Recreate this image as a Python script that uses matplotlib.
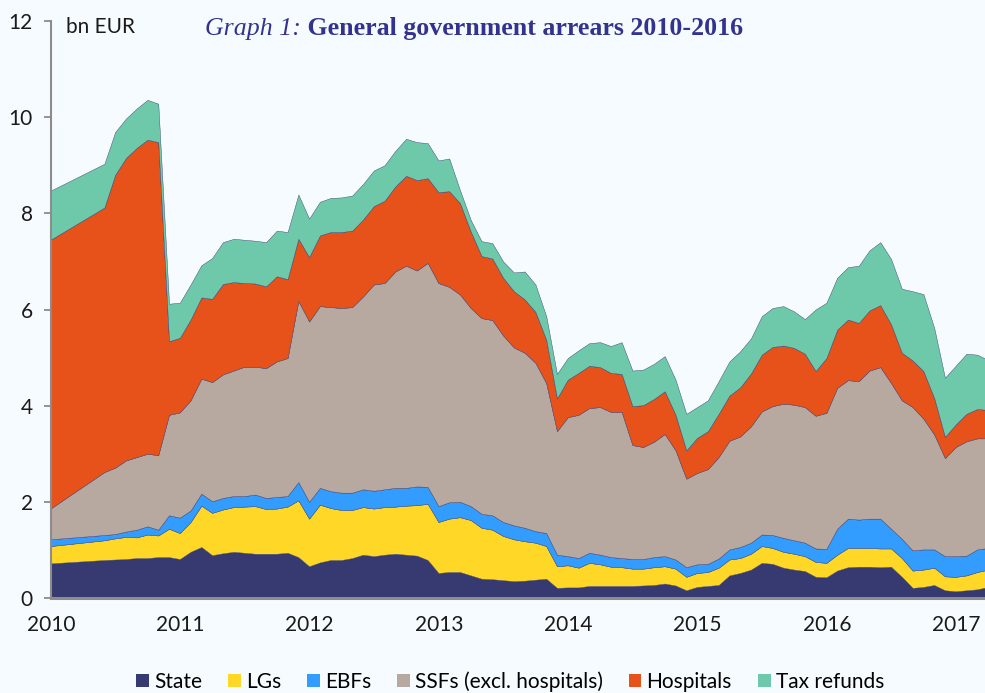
import matplotlib
matplotlib.use('Agg')
import matplotlib.pyplot as plt
import pandas as pd
from matplotlib.patches import Patch

# ---------------- data (bn EUR, monthly) ----------------
months = ['2010-01'] + [str(p) for p in pd.period_range('2010-06', '2017-04', freq='M')]

state = [0.71,
         0.78, 0.79, 0.80, 0.82, 0.82, 0.84, 0.84,
         0.80, 0.95, 1.05, 0.88, 0.92, 0.95, 0.93, 0.91, 0.91, 0.91, 0.93, 0.84,
         0.65, 0.73, 0.78, 0.78, 0.82, 0.89, 0.86, 0.89, 0.91, 0.89, 0.87, 0.78,
         0.51, 0.53, 0.53, 0.46, 0.39, 0.38, 0.36, 0.34, 0.35, 0.37, 0.39, 0.20,
         0.21, 0.21, 0.24, 0.24, 0.24, 0.24, 0.24, 0.25, 0.26, 0.29, 0.25, 0.15,
         0.22, 0.24, 0.26, 0.46, 0.51, 0.58, 0.72, 0.70, 0.62, 0.58, 0.55, 0.43,
         0.42, 0.56, 0.63, 0.64, 0.64, 0.63, 0.64, 0.43, 0.20, 0.22, 0.26, 0.15,
         0.13, 0.15, 0.17, 0.22]

lgs = [0.36,
       0.41, 0.44, 0.46, 0.43, 0.49, 0.45, 0.59,
       0.54, 0.62, 0.86, 0.88, 0.91, 0.93, 0.96, 0.99, 0.93, 0.94, 0.96, 1.18,
       0.99, 1.20, 1.08, 1.04, 1.00, 0.99, 0.99, 0.99, 0.98, 1.02, 1.05, 1.17,
       1.06, 1.11, 1.14, 1.15, 1.06, 1.03, 0.92, 0.87, 0.82, 0.77, 0.68, 0.45,
       0.46, 0.41, 0.48, 0.45, 0.40, 0.39, 0.36, 0.35, 0.37, 0.36, 0.35, 0.28,
       0.29, 0.29, 0.36, 0.33, 0.31, 0.33, 0.35, 0.33, 0.33, 0.33, 0.31, 0.31,
       0.30, 0.33, 0.40, 0.39, 0.39, 0.39, 0.38, 0.39, 0.36, 0.36, 0.36, 0.29,
       0.30, 0.31, 0.36, 0.36]

ebfs = [0.14,
        0.11, 0.09, 0.11, 0.16, 0.17, 0.12, 0.28,
        0.32, 0.24, 0.25, 0.24, 0.24, 0.23, 0.22, 0.24, 0.23, 0.24, 0.22, 0.38,
        0.35, 0.35, 0.35, 0.36, 0.36, 0.37, 0.37, 0.37, 0.39, 0.37, 0.39, 0.35,
        0.33, 0.34, 0.32, 0.29, 0.29, 0.30, 0.29, 0.29, 0.28, 0.24, 0.27, 0.24,
        0.19, 0.20, 0.21, 0.20, 0.20, 0.19, 0.20, 0.20, 0.21, 0.21, 0.19, 0.20,
        0.18, 0.17, 0.19, 0.21, 0.23, 0.23, 0.24, 0.27, 0.29, 0.28, 0.28, 0.28,
        0.29, 0.54, 0.61, 0.59, 0.61, 0.62, 0.41, 0.40, 0.42, 0.42, 0.38, 0.42,
        0.43, 0.41, 0.47, 0.45]

ssfs = [0.64,
        1.31, 1.38, 1.48, 1.51, 1.51, 1.55, 2.09,
        2.19, 2.29, 2.39, 2.48, 2.57, 2.61, 2.69, 2.66, 2.70, 2.82, 2.87, 3.77,
        3.75, 3.78, 3.83, 3.84, 3.86, 4.01, 4.29, 4.29, 4.50, 4.62, 4.49, 4.66,
        4.64, 4.48, 4.31, 4.12, 4.07, 4.06, 3.88, 3.70, 3.64, 3.50, 3.12, 2.57,
        2.89, 2.98, 3.01, 3.07, 3.02, 3.04, 2.37, 2.33, 2.40, 2.54, 2.27, 1.84,
        1.90, 1.97, 2.11, 2.26, 2.30, 2.42, 2.56, 2.68, 2.79, 2.82, 2.82, 2.76,
        2.83, 2.93, 2.88, 2.88, 3.08, 3.15, 3.03, 2.88, 2.98, 2.72, 2.39, 2.04,
        2.27, 2.38, 2.31, 2.28]

hospitals = [5.59,
             5.50, 6.09, 6.29, 6.43, 6.53, 6.51, 1.53,
             1.55, 1.68, 1.69, 1.73, 1.88, 1.84, 1.74, 1.73, 1.70, 1.77, 1.64, 1.29,
             1.34, 1.47, 1.56, 1.58, 1.59, 1.60, 1.63, 1.71, 1.77, 1.87, 1.88, 1.76,
             1.89, 1.99, 1.90, 1.59, 1.29, 1.28, 1.20, 1.17, 1.11, 1.06, 0.90, 0.68,
             0.78, 0.87, 0.88, 0.83, 0.81, 0.79, 0.81, 0.87, 0.89, 0.89, 0.74, 0.59,
             0.73, 0.79, 0.90, 0.94, 1.02, 1.10, 1.18, 1.23, 1.21, 1.18, 1.11, 0.93,
             1.14, 1.21, 1.26, 1.21, 1.25, 1.29, 1.22, 0.99, 0.97, 0.99, 0.76, 0.44,
             0.47, 0.57, 0.61, 0.59]

tax_refunds = [1.02,
               0.91, 0.89, 0.82, 0.82, 0.83, 0.80, 0.78,
               0.73, 0.73, 0.67, 0.85, 0.87, 0.90, 0.90, 0.89, 0.92, 0.95, 0.98, 0.92,
               0.80, 0.70, 0.71, 0.72, 0.73, 0.74, 0.74, 0.74, 0.74, 0.77, 0.79, 0.73,
               0.66, 0.68, 0.27, 0.24, 0.31, 0.32, 0.34, 0.39, 0.58, 0.57, 0.49, 0.51,
               0.45, 0.47, 0.47, 0.52, 0.56, 0.66, 0.74, 0.74, 0.73, 0.73, 0.73, 0.76,
               0.64, 0.64, 0.68, 0.71, 0.75, 0.73, 0.80, 0.81, 0.82, 0.76, 0.72, 1.28,
               1.15, 1.08, 1.09, 1.19, 1.25, 1.31, 1.36, 1.33, 1.44, 1.60, 1.46, 1.23,
               1.22, 1.25, 1.13, 1.04]

labels = ['State', 'LGs', 'EBFs', 'SSFs (excl. hospitals)', 'Hospitals', 'Tax refunds']
colors = ['#363a70', '#ffd726', '#339cff', '#b7a8a0', '#e65219', '#6ec9aa']
year_ticks = [2010, 2011, 2012, 2013, 2014, 2015, 2016, 2017]

# ---------------- figure ----------------
bg = '#f5fbfe'
W, H = 985, 693
fig = plt.figure(figsize=(W / 100, H / 100), dpi=100, facecolor=bg)
ax = fig.add_axes([51 / W, 95 / H, (W - 51) / W, (598 - 21) / H])
ax.set_facecolor(bg)

x = [int(s[:4]) + (int(s[5:7]) - 1) / 12 for s in months]
series = [state, lgs, ebfs, ssfs, hospitals, tax_refunds]
ax.stackplot(x, *series, colors=colors, linewidth=0.3,
             edgecolors=colors, labels=labels)

ax.set_xlim(2010, 2010 + 86.67 / 12)
ax.set_ylim(0, 12)
ax.set_yticks(range(0, 13, 2))
ax.set_xticks(year_ticks)
ax.set_xticklabels([str(y) for y in year_ticks])

tick_font = dict(family=['Lato', 'DejaVu Sans'], size=15)
for lab in ax.get_xticklabels() + ax.get_yticklabels():
    lab.set_fontfamily(tick_font['family'])
    lab.set_fontsize(tick_font['size'])
    lab.set_color('#1a1a1a')

for s in ['top', 'right']:
    ax.spines[s].set_visible(False)
ax.spines['left'].set_color('#8c8c8c')
ax.spines['left'].set_linewidth(1.5)
ax.spines['bottom'].set_color('#8c8c8c')
ax.spines['bottom'].set_linewidth(2.2)
ax.tick_params(axis='y', direction='out', length=5, width=1.3, color='#8c8c8c', pad=8)
ax.tick_params(axis='x', length=0, pad=12)

fig.text(66 / W, 1 - 27 / H, 'bn EUR', ha='left', va='center',
         family=['Lato', 'DejaVu Sans'], fontsize=15, color='#1a1a1a')

title_color = '#33338f'
t1 = fig.text(205 / W, 1 - 35 / H, 'Graph 1:', ha='left', va='baseline',
              family=['Liberation Serif', 'DejaVu Serif'], style='italic',
              fontsize=18.6, color=title_color)
ax.annotate(' General government arrears 2010-2016', xy=(1, 0), xycoords=t1,
            ha='left', va='bottom', family=['Liberation Serif', 'DejaVu Serif'],
            weight='bold', fontsize=18.6, color=title_color, annotation_clip=False)

handles = [Patch(facecolor=c, edgecolor='none') for c in colors]
fig.legend(handles, labels, loc='center', bbox_to_anchor=(0.518, 0.017), ncol=6,
           frameon=False, handlelength=0.6, handleheight=0.6, handletextpad=0.25,
           columnspacing=1.25, borderpad=0, borderaxespad=0,
           prop=dict(family=['Lato', 'DejaVu Sans'], size=15))

fig.savefig('out.png', dpi=100, facecolor=bg)
